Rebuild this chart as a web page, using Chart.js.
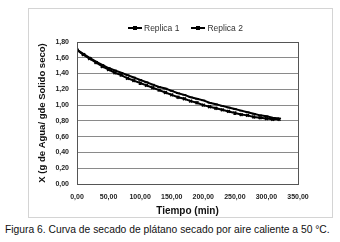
<!DOCTYPE html>
<html>
<head>
<meta charset="utf-8">
<script src="https://cdn.jsdelivr.net/npm/chart.js@4/dist/chart.umd.min.js"></script>
<style>
  body { margin: 0; background: #fff; width: 340px; height: 242px; position: relative; overflow: hidden; }
  #box { position: absolute; left: 28px; top: 8px; width: 303px; height: 208px; border: 1px solid #d4d4d4; }
  #legend { position: absolute; left: 128px; top: 21px; font: 8.5px "Liberation Sans", Arial, sans-serif; color: #333; white-space: nowrap; }
  #legend span.item { display: inline-flex; align-items: center; margin-right: 12px; }
  #legend span.sample { display: inline-block; width: 14px; height: 2px; background: #000; margin-right: 2px; position: relative; }
  #legend span.sample::after { content: ''; position: absolute; left: 5px; top: -1px; width: 4px; height: 4px; background: #000; }
  #caption { position: absolute; left: 5px; top: 224px; font: 10.3px "Liberation Sans", Arial, sans-serif; color: #111; white-space: nowrap; }
</style>
</head>
<body>
<div id="box"><canvas id="chart" width="303" height="208"></canvas></div>
<div id="legend"></div>
<div id="caption">Figura 6. Curva de secado de plátano secado por aire caliente a 50 °C.</div>
<script>
// tiempo (min)
const tiempo = [0, 10, 20, 30, 40, 50, 60, 70, 80, 90, 100, 110, 120, 130, 140, 150, 160,
    170, 180, 190, 200, 210, 220, 230, 240, 250, 260, 270, 280, 290, 300, 310, 320];
const replica1 = [1.70, 1.65, 1.60, 1.55, 1.51, 1.47, 1.44, 1.41, 1.38, 1.35, 1.32, 1.29, 1.26,
    1.23, 1.21, 1.18, 1.15, 1.13, 1.10, 1.08, 1.06, 1.03, 1.01, 0.99, 0.97, 0.95, 0.93, 0.91,
    0.89, 0.87, 0.86, 0.84, 0.83];
const replica2 = [1.70, 1.64, 1.59, 1.54, 1.49, 1.45, 1.41, 1.38, 1.34, 1.31, 1.28, 1.25, 1.22,
    1.19, 1.16, 1.13, 1.10, 1.08, 1.05, 1.03, 1.00, 0.98, 0.96, 0.94, 0.92, 0.90, 0.88, 0.87,
    0.85, 0.84, 0.83, 0.82, 0.82];
const seriesNames = ['Replica 1', 'Replica 2'];

const fmt = v => Number(v).toFixed(2).replace('.', ',');
const tickFont = { family: 'Liberation Sans', size: 7, weight: 'bold' };

function points(ys) {
    return tiempo.map((t, i) => ({ x: t, y: ys[i] }));
}

// legend as html so it can sit off-centre like the original
document.getElementById('legend').innerHTML = seriesNames
    .map(n => `<span class="item"><span class="sample"></span>${n}</span>`)
    .join('');

// plot frame
const frame = {
    id: 'frame',
    afterDraw(chart) {
        const a = chart.chartArea;
        const ctx = chart.ctx;
        ctx.save();
        ctx.strokeStyle = '#555';
        ctx.lineWidth = 1;
        ctx.strokeRect(Math.round(a.left) + 0.5, Math.round(a.top) + 0.5,
            Math.round(a.right - a.left), Math.round(a.bottom - a.top));
        ctx.restore();
    }
};

new Chart(document.getElementById('chart').getContext('2d'), {
    type: 'line',
    data: {
        datasets: [
            {
                label: seriesNames[0],
                data: points(replica1),
                borderColor: '#000',
                backgroundColor: '#000',
                borderWidth: 2,
                pointStyle: 'line',
                pointRadius: 2,
                pointBorderWidth: 1.5,
                tension: 0
            },
            {
                label: seriesNames[1],
                data: points(replica2),
                borderColor: '#000',
                backgroundColor: '#000',
                borderWidth: 2,
                pointStyle: 'crossRot',
                pointRadius: 2,
                pointBorderWidth: 1.5,
                tension: 0
            }
        ]
    },
    options: {
        responsive: false,
        animation: false,
        layout: { padding: { left: 0, right: 34, top: 33, bottom: 0 } },
        plugins: {
            legend: { display: false },
            tooltip: { enabled: false }
        },
        scales: {
            x: {
                type: 'linear',
                min: 0,
                max: 350,
                ticks: {
                    stepSize: 50,
                    color: '#222',
                    font: tickFont,
                    maxRotation: 0,
                    padding: 9,
                    callback: v => fmt(v)
                },
                grid: { display: false, drawTicks: false },
                border: { color: '#555' },
                title: {
                    display: true,
                    text: 'Tiempo (min)',
                    color: '#111',
                    font: { family: 'Liberation Sans', size: 10, weight: 'bold' },
                    padding: { top: 2, bottom: 0 }
                },
                afterFit: s => { s.height = 33; }
            },
            y: {
                min: 0,
                max: 1.8,
                ticks: {
                    stepSize: 0.2,
                    color: '#222',
                    font: tickFont,
                    padding: 8,
                    callback: v => fmt(v)
                },
                grid: { color: '#8a8a8a', drawTicks: false },
                border: { color: '#555' },
                title: {
                    display: true,
                    text: 'X (g de Agua/ gde Solido seco)',
                    color: '#111',
                    font: { family: 'Liberation Sans', size: 9.5, weight: 'bold' },
                    padding: { top: 8, bottom: 2 }
                },
                afterFit: s => { s.width = 48; }
            }
        }
    },
    plugins: [frame]
});
</script>
</body>
</html>
